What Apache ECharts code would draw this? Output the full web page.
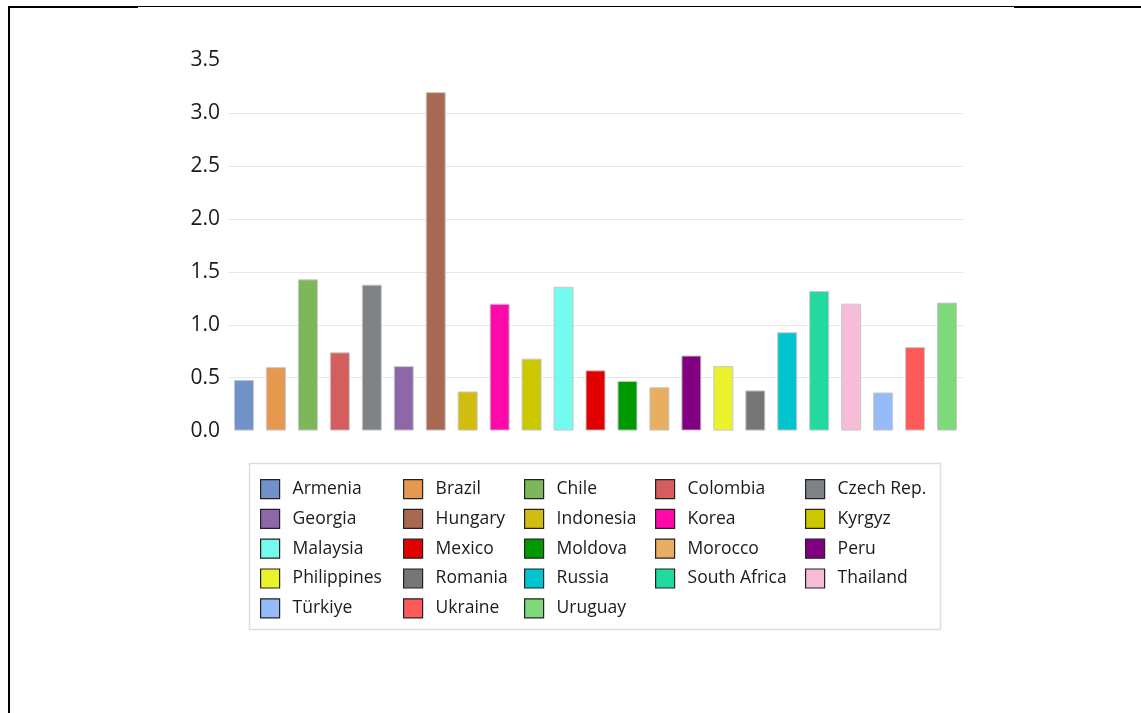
<!DOCTYPE html>
<html>
<head>
<meta charset="utf-8">
<script src="https://cdn.jsdelivr.net/npm/echarts@6/dist/echarts.min.js"></script>
<style>
html,body{margin:0;padding:0;background:#fff;}
#chart{width:1141px;height:713px;}
</style>
</head>
<body>
<div id="chart"></div>
<script>
const categories = ['Armenia','Brazil','Chile','Colombia','Czech Rep.','Georgia','Hungary','Indonesia','Korea','Kyrgyz','Malaysia','Mexico','Moldova','Morocco','Peru','Philippines','Romania','Russia','South Africa','Thailand','Türkiye','Ukraine','Uruguay'];
const values = [0.48,0.60,1.43,0.74,1.38,0.61,3.20,0.37,1.20,0.68,1.36,0.57,0.47,0.41,0.71,0.61,0.38,0.93,1.32,1.20,0.36,0.79,1.21];
const colors = ['#7092C8','#E5984E','#7EB65A','#D45E5E','#7F8385','#8E67A8','#A86852','#D1BD0F','#FF0AAA','#CCC800','#73FBF0','#E00000','#009A00','#E8AE62','#800080','#EAF22A','#767676','#00C4CF','#22D9A0','#F7BDD8','#95BBF8','#FF5A5A','#7ED97A'];
const yTicks = [0,0.5,1.0,1.5,2.0,2.5,3.0,3.5];

const chart = echarts.init(document.getElementById('chart'), null, {renderer:'canvas'});

const series = categories.map((name,i)=>({
  name: name,
  type: 'bar',
  stack: 'all',
  barWidth: 20,
  itemStyle: {color: colors[i], borderColor: '#c8c8c8', borderWidth: 1},
  data: categories.map((c,j)=> j===i ? values[i] : '-')
}));

const nCols = 5;
const colLeft = [260, 403, 524, 655, 805];
const legends = [];
for (let c=0;c<nCols;c++){
  const names = categories.filter((_,i)=> i % nCols === c);
  legends.push({
    orient: 'vertical',
    left: colLeft[c],
    top: 479,
    itemWidth: 19,
    itemHeight: 19,
    itemGap: 9.6,
    padding: 0,
    selectedMode: false,
    icon: 'rect',
    itemStyle: {borderColor: '#222', borderWidth: 1.2},
    textStyle: {fontFamily: 'Open Sans', fontSize: 17.5, lineHeight: 19, color: '#1a1a1a', padding: [0,0,0,8]},
    data: names
  });
}

chart.setOption({
  animation: false,
  backgroundColor: '#fff',
  grid: {left: 228, right: 178, top: 60.4, bottom: 282.4, containLabel: false},
  xAxis: {
    type: 'category',
    data: categories,
    axisLine: {show: false},
    axisTick: {show: false},
    axisLabel: {show: false},
    splitLine: {show: false}
  },
  yAxis: {
    type: 'value',
    min: yTicks[0],
    max: yTicks[yTicks.length-1],
    interval: 0.5,
    axisLine: {show: false},
    axisTick: {show: false},
    axisLabel: {
      formatter: v => v.toFixed(1),
      fontFamily: 'Open Sans',
      fontSize: 21,
      color: '#1a1a1a',
      margin: 8
    },
    splitLine: {show: true, showMinLine: false, showMaxLine: false, lineStyle: {color: '#e6e6e6', width: 1}}
  },
  legend: legends,
  graphic: [
    {type:'rect', shape:{x:249.5, y:463.5, width:691, height:166}, style:{fill:'#fff', stroke:'#dedede', lineWidth:1.5}, z:-1},
    {type:'line', shape:{x1:8, y1:7, x2:138, y2:7}, style:{stroke:'#000', lineWidth:2}},
    {type:'line', shape:{x1:138, y1:6.5, x2:1014, y2:6.5}, style:{stroke:'#000', lineWidth:1}},
    {type:'line', shape:{x1:1014, y1:7, x2:1141, y2:7}, style:{stroke:'#000', lineWidth:2}},
    {type:'line', shape:{x1:9, y1:6, x2:9, y2:713}, style:{stroke:'#000', lineWidth:2}}
  ],
  series: series
});
</script>
</body>
</html>
